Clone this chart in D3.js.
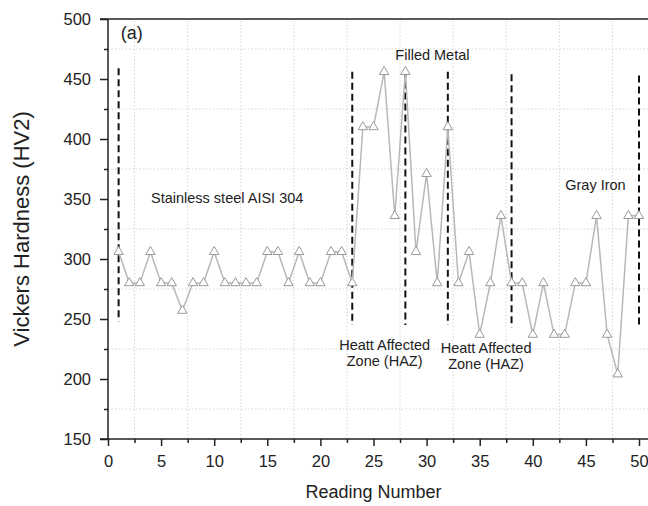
<!DOCTYPE html>
<html lang="en">
<head>
<meta charset="UTF-8">
<title>Vickers Hardness</title>
<script src="https://d3js.org/d3.v7.min.js"></script>
<style>
    body { margin: 0; background: #fff; font-family: Arial, "Liberation Sans", sans-serif; }
</style>
</head>
<body>
<div id="chart"></div>
<script>
    // readings 1..50 and their hardness values (HV2)
    var readings = d3.range(1, 51);
    var hardness = [
        306, 280, 280, 306, 280, 280, 257, 280, 280, 306,
        280, 280, 280, 280, 306, 306, 280, 306, 280, 280,
        306, 306, 280, 410, 410, 456, 336, 456, 306, 371,
        280, 410, 280, 306, 237, 280, 336, 280, 280, 237,
        280, 237, 237, 280, 280, 336, 237, 204, 336, 336
    ];

    // zone boundaries (dashed lines): reading number, top and bottom value
    var boundX = [1, 23, 28, 32, 38, 50];
    var boundTop = [459, 456, 457, 456, 454, 453];
    var boundBottom = [248, 245, 245, 245, 243, 242];

    var xTicks = [0, 5, 10, 15, 20, 25, 30, 35, 40, 45, 50];
    var yTicks = [150, 200, 250, 300, 350, 400, 450, 500];

    // annotation texts, positioned in data units
    var labels = [
        { lines: ["(a)"], x: 1.2, y: 483.5, anchor: "start", size: 18 },
        { lines: ["Stainless steel AISI 304"], x: 4.05, y: 346.7, anchor: "start", size: 14.5 },
        { lines: ["Filled Metal"], x: 30.55, y: 465.8, anchor: "middle", size: 14.5 },
        { lines: ["Heatt Affected", "Zone (HAZ)"], x: 26.05, y: 224.2, anchor: "middle", size: 14.5 },
        { lines: ["Heatt Affected", "Zone (HAZ)"], x: 35.6, y: 221.7, anchor: "middle", size: 14.5 },
        { lines: ["Gray Iron"], x: 45.9, y: 357.5, anchor: "middle", size: 14.5 }
    ];

    var W = 648, H = 506;
    var svg = d3.select("#chart").append("svg")
        .attr("width", W)
        .attr("height", H);

    var x = d3.scaleLinear().domain([0, 50]).range([108, 639]);
    var y = d3.scaleLinear().domain([150, 500]).range([439, 19]);

    // dotted grid at minor positions
    var xMinor = d3.range(2.5, 50, 5);
    var yMinor = d3.range(175, 500, 50);
    var grid = svg.append("g").attr("stroke", "#d6d6d6").attr("stroke-width", 1)
        .attr("stroke-dasharray", "1.5,2");
    grid.selectAll("line.gx").data(xMinor).join("line")
        .attr("x1", d => x(d)).attr("x2", d => x(d))
        .attr("y1", y(150)).attr("y2", y(500));
    grid.selectAll("line.gy").data(yMinor).join("line")
        .attr("x1", x(0)).attr("x2", W)
        .attr("y1", d => y(d)).attr("y2", d => y(d));

    // axes
    var xAxis = svg.append("g")
        .attr("transform", `translate(0,${y(150)})`)
        .call(d3.axisBottom(x).tickValues(xTicks).tickSize(7).tickPadding(9).tickFormat(d3.format("d")));
    var xMin = svg.append("g")
        .attr("transform", `translate(0,${y(150)})`)
        .call(d3.axisBottom(x).tickValues(xMinor).tickSize(4).tickFormat(""));
    var yAxis = svg.append("g")
        .attr("transform", `translate(${x(0)},0)`)
        .call(d3.axisLeft(y).tickValues(yTicks).tickSize(8).tickPadding(9));
    var yMin = svg.append("g")
        .attr("transform", `translate(${x(0)},0)`)
        .call(d3.axisLeft(y).tickValues(yMinor).tickSize(4).tickFormat(""));

    [xAxis, xMin, yAxis, yMin].forEach(function (g) {
        g.select(".domain").remove();
        g.selectAll("line").attr("stroke", "#222").attr("stroke-width", 1.5);
        g.selectAll("text").attr("fill", "#222")
            .style("font-size", "16.5px")
            .style("font-family", "Arial, 'Liberation Sans', sans-serif");
    });

    // frame lines: left, bottom, top
    var frame = svg.append("g").attr("stroke", "#222").attr("stroke-width", 1.5);
    frame.append("line").attr("x1", x(0)).attr("x2", x(0)).attr("y1", y(150)).attr("y2", y(500));
    frame.append("line").attr("x1", x(0) - 8).attr("x2", W).attr("y1", y(150)).attr("y2", y(150));
    frame.append("line").attr("x1", x(0) - 8).attr("x2", W).attr("y1", y(500)).attr("y2", y(500));

    // axis titles
    svg.append("text")
        .attr("x", x(25)).attr("y", 498)
        .attr("text-anchor", "middle")
        .style("font-size", "18px").attr("fill", "#222")
        .text("Reading Number");
    svg.append("text")
        .attr("transform", `translate(29,${(y(150) + y(500)) / 2}) rotate(-90)`)
        .attr("text-anchor", "middle")
        .style("font-size", "22px").attr("fill", "#222")
        .text("Vickers Hardness (HV2)");

    // dashed boundary lines
    svg.append("g").selectAll("line").data(boundX).join("line")
        .attr("x1", d => x(d)).attr("x2", d => x(d))
        .attr("y1", (d, i) => y(boundTop[i]))
        .attr("y2", (d, i) => y(boundBottom[i]))
        .attr("stroke", "#111").attr("stroke-width", 2)
        .attr("stroke-dasharray", "7,4");

    // data line and triangle markers
    var pts = readings.map((r, i) => [r, hardness[i]]);
    svg.append("path")
        .datum(pts)
        .attr("fill", "none")
        .attr("stroke", "#b8b8b8")
        .attr("stroke-width", 1.5)
        .attr("d", d3.line().x(d => x(d[0])).y(d => y(d[1])));

    var tri = d3.symbol().type(d3.symbolTriangle).size(38);
    svg.append("g").selectAll("path").data(pts).join("path")
        .attr("transform", d => `translate(${x(d[0])},${y(d[1])})`)
        .attr("d", tri)
        .attr("fill", "#fff")
        .attr("stroke", "#9a9a9a")
        .attr("stroke-width", 1);

    // annotations
    labels.forEach(function (l) {
        var t = svg.append("text")
            .attr("x", x(l.x)).attr("y", y(l.y))
            .attr("text-anchor", l.anchor)
            .style("font-size", l.size + "px")
            .attr("fill", "#222");
        l.lines.forEach(function (s, i) {
            t.append("tspan").attr("x", x(l.x)).attr("dy", i === 0 ? 0 : "1.12em").text(s);
        });
    });
</script>
</body>
</html>
